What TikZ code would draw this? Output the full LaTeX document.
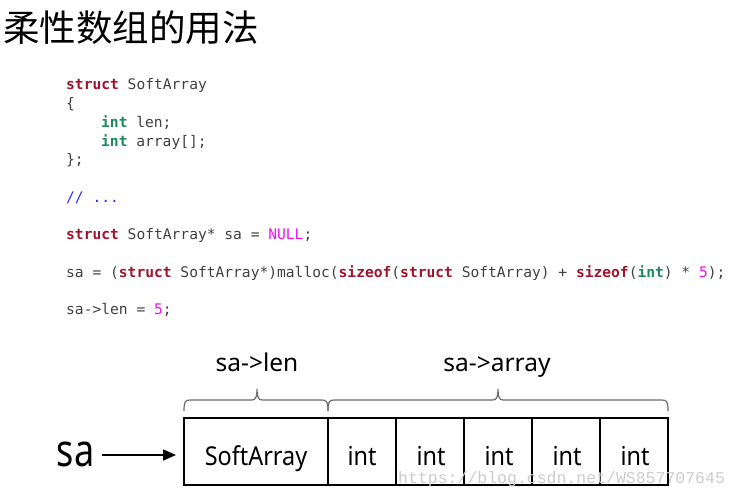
\documentclass[tikz,border=0pt]{standalone}
\usepackage{fontspec}
\usepackage{graphicx}
\usetikzlibrary{arrows.meta}
\newfontfamily\cjk{Noto Sans CJK SC}
\newfontfamily\codefont{DejaVu Sans Mono}
\newfontfamily\lblfont{Noto Sans}
\newfontfamily\wmfont{Liberation Mono}
\definecolor{kwred}{HTML}{A0142D}
\definecolor{kwgreen}{HTML}{1B8A5A}
\definecolor{cmblue}{HTML}{2A2AFF}
\definecolor{nummag}{HTML}{F010F0}
\definecolor{codetxt}{HTML}{404040}
\newcommand{\kwS}[1]{\textcolor{kwred}{\bfseries #1}}
\newcommand{\kwI}[1]{\textcolor{kwgreen}{\bfseries #1}}
\newcommand{\nm}[1]{\textcolor{nummag}{#1}}
\tikzset{
  codeline/.style={anchor=base west, inner sep=0pt, text=codetxt, font=\codefont\fontsize{14.6}{17}\selectfont},
  cell/.style={draw=black, line width=1.5pt, minimum height=67pt, inner sep=0pt, outer sep=0pt, anchor=north west},
  lbl/.style={inner sep=0pt, anchor=base, font=\lblfont\fontsize{26}{30}\selectfont},
  toplbl/.style={inner sep=0pt, anchor=base, font=\lblfont\fontsize{24.5}{28}\selectfont},
  bracestyle/.style={draw=gray!85!black, line width=1.2pt},
}
\begin{document}
\begin{tikzpicture}[x=1pt,y=-1pt]
\useasboundingbox (0,0) rectangle (741,497);
% title
\node[anchor=base west, inner sep=0pt, font=\cjk\fontsize{36.5}{40}\selectfont] (title) at (3,42) {柔性数组的用法};
% code
\node[codeline] (c1) at (66,90) {\kwS{struct} SoftArray};
\node[codeline] (c2) at (66,108.7) {\{};
\node[codeline] (c3) at (101,127.4) {\kwI{int} len;};
\node[codeline] (c4) at (101,146.1) {\kwI{int} array[];};
\node[codeline] (c5) at (66,164.8) {\};};
\node[codeline, text=cmblue] (c6) at (66,202.2) {// ...};
\node[codeline] (c7) at (66,239.6) {\kwS{struct} SoftArray* sa = \nm{NULL};};
\node[codeline] (c8) at (66,277) {sa = (\kwS{struct} SoftArray*)malloc(\kwS{sizeof}(\kwS{struct} SoftArray) + \kwS{sizeof}(\kwI{int}) * \nm{5});};
\node[codeline] (c9) at (66,314.4) {sa->len = \nm{5};};
% memory cells
\node[cell, minimum width=144pt] (sarr) at (184,418) {};
\node[cell, minimum width=68pt] (i1) at (328,418) {};
\node[cell, minimum width=68pt] (i2) at (396,418) {};
\node[cell, minimum width=68pt] (i3) at (464,418) {};
\node[cell, minimum width=68pt] (i4) at (532,418) {};
\node[cell, minimum width=68pt] (i5) at (600,418) {};
\draw[line width=2.2pt] (sarr.north west) rectangle (i5.south east);
\node[lbl] (tsa) at (256,465) {\scalebox{0.9}[1]{SoftArray}};
\foreach \n/\x in {i1/362,i2/431,i3/499,i4/567,i5/635}{\node[lbl] (t\n) at (\x,465) {\scalebox{0.9}[1]{int}};}
% braces
\coordinate (bl0) at (184,411);
\coordinate (bl1) at (328,411);
\coordinate (br1) at (668,411);
\draw[bracestyle] (bl0) .. controls (184,402) and (185,400) .. (190,400) -- (252,400)
  .. controls (256,400) and (257,396) .. (257,389) .. controls (257,396) and (258,400) .. (262,400)
  -- (322,400) .. controls (327,400) and (328,402) .. (bl1);
\draw[bracestyle] (bl1) .. controls (328,402) and (329,400) .. (334,400) -- (493,400)
  .. controls (497,400) and (498,396) .. (498,389) .. controls (498,396) and (499,400) .. (503,400)
  -- (662,400) .. controls (667,400) and (668,402) .. (br1);
\node[toplbl] (lenlbl) at (257,371) {sa->len};
\node[toplbl] (arrlbl) at (497,371) {sa->array};
% pointer
\node[inner sep=0pt, anchor=base, font=\lblfont\fontsize{45}{48}\selectfont] (sa) at (75.5,466) {\scalebox{0.8}[1]{sa}};
\coordinate (arrend) at (176,455);
\draw[line width=1.6pt, -{Triangle[length=13pt,width=11pt]}] (102,455) -- (arrend);
% watermark
\node[anchor=base west, inner sep=0pt, text=gray!40, font=\wmfont\fontsize{16.5}{18}\selectfont] (wm) at (398,483) {https://blog.csdn.net/WS857707645};
\end{tikzpicture}
\end{document}
